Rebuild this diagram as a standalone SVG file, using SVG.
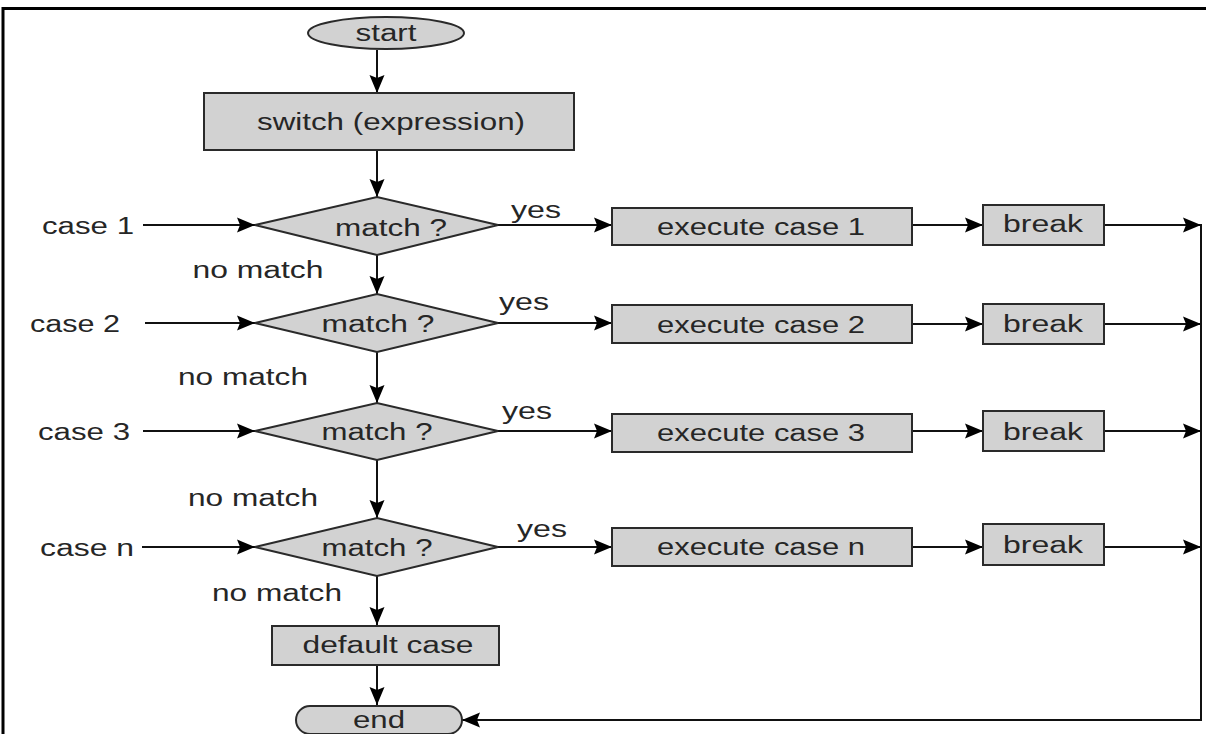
<svg xmlns="http://www.w3.org/2000/svg" width="1206" height="734" viewBox="0 0 1206 734">
<style>
.box{fill:#d2d2d2;stroke:#2a2a2a;stroke-width:2}
.t{font-family:"Liberation Sans",Arial,sans-serif;font-size:23px;fill:#262626;text-anchor:middle}
.c{fill:none;stroke:#111;stroke-width:2}
.frame{stroke:#000;stroke-width:3;fill:none}
</style>
<defs>
<marker id="ah" markerUnits="userSpaceOnUse" markerWidth="20" markerHeight="18" refX="18" refY="9" orient="auto">
<path d="M0,1.5 L18,9 L0,16.5 L3,9 z" fill="#000"/>
</marker>
</defs>
<rect width="1206" height="734" fill="#fff"/>
<path class="frame" d="M3,734 V8.5 H1206"/>

<g id="connectors">
<line class="c" x1="377" y1="50" x2="377" y2="93" marker-end="url(#ah)"/>
<line class="c" x1="377" y1="150" x2="377" y2="197" marker-end="url(#ah)"/>
<line class="c" x1="377" y1="255" x2="377" y2="294" marker-end="url(#ah)"/>
<line class="c" x1="377" y1="352" x2="377" y2="403" marker-end="url(#ah)"/>
<line class="c" x1="377" y1="460" x2="377" y2="518" marker-end="url(#ah)"/>
<line class="c" x1="377" y1="576" x2="377" y2="625" marker-end="url(#ah)"/>
<line class="c" x1="377" y1="665" x2="377" y2="705" marker-end="url(#ah)"/>

<line class="c" x1="143" y1="225" x2="255" y2="225" marker-end="url(#ah)"/>
<line class="c" x1="145" y1="323" x2="255" y2="323" marker-end="url(#ah)"/>
<line class="c" x1="143" y1="431" x2="255" y2="431" marker-end="url(#ah)"/>
<line class="c" x1="142" y1="547" x2="255" y2="547" marker-end="url(#ah)"/>

<line class="c" x1="498" y1="225" x2="612" y2="225" marker-end="url(#ah)"/>
<line class="c" x1="498" y1="323" x2="612" y2="323" marker-end="url(#ah)"/>
<line class="c" x1="498" y1="431" x2="612" y2="431" marker-end="url(#ah)"/>
<line class="c" x1="498" y1="547" x2="612" y2="547" marker-end="url(#ah)"/>

<line class="c" x1="912" y1="225" x2="983" y2="225" marker-end="url(#ah)"/>
<line class="c" x1="912" y1="324" x2="983" y2="324" marker-end="url(#ah)"/>
<line class="c" x1="912" y1="431" x2="983" y2="431" marker-end="url(#ah)"/>
<line class="c" x1="912" y1="547" x2="983" y2="547" marker-end="url(#ah)"/>

<line class="c" x1="1104" y1="225" x2="1201" y2="225" marker-end="url(#ah)"/>
<line class="c" x1="1104" y1="324" x2="1201" y2="324" marker-end="url(#ah)"/>
<line class="c" x1="1104" y1="431" x2="1201" y2="431" marker-end="url(#ah)"/>
<line class="c" x1="1104" y1="547" x2="1201" y2="547" marker-end="url(#ah)"/>

<path class="c" d="M1201,224 V720 H462" marker-end="url(#ah)"/>
</g>

<g id="start"><ellipse class="box" cx="386" cy="33" rx="78" ry="16"/><text class="t" x="386" y="41" textLength="61" lengthAdjust="spacingAndGlyphs">start</text></g>
<g id="switch"><rect class="box" x="204" y="93" width="370" height="57"/><text class="t" x="391" y="130" textLength="268" lengthAdjust="spacingAndGlyphs">switch (expression)</text></g>

<g id="case1-label"><text class="t" x="88" y="234" textLength="92" lengthAdjust="spacingAndGlyphs">case 1</text></g>
<g id="case2-label"><text class="t" x="75" y="332" textLength="90" lengthAdjust="spacingAndGlyphs">case 2</text></g>
<g id="case3-label"><text class="t" x="84" y="440" textLength="92" lengthAdjust="spacingAndGlyphs">case 3</text></g>
<g id="casen-label"><text class="t" x="87" y="556" textLength="94" lengthAdjust="spacingAndGlyphs">case n</text></g>

<g id="match1"><polygon class="box" points="255,225 377,197 498,225 377,255"/><text class="t" x="391" y="236" textLength="112" lengthAdjust="spacingAndGlyphs">match ?</text></g>
<g id="match2"><polygon class="box" points="255,323 377,294 498,323 377,352"/><text class="t" x="378" y="332" textLength="113" lengthAdjust="spacingAndGlyphs">match ?</text></g>
<g id="match3"><polygon class="box" points="255,431 377,403 498,431 377,460"/><text class="t" x="377" y="440" textLength="111" lengthAdjust="spacingAndGlyphs">match ?</text></g>
<g id="matchn"><polygon class="box" points="255,547 377,518 498,547 377,576"/><text class="t" x="377" y="556" textLength="111" lengthAdjust="spacingAndGlyphs">match ?</text></g>

<g id="yes-labels">
<text class="t" x="536" y="218" textLength="50" lengthAdjust="spacingAndGlyphs">yes</text>
<text class="t" x="524" y="310" textLength="50" lengthAdjust="spacingAndGlyphs">yes</text>
<text class="t" x="527" y="419" textLength="50" lengthAdjust="spacingAndGlyphs">yes</text>
<text class="t" x="542" y="537" textLength="50" lengthAdjust="spacingAndGlyphs">yes</text>
</g>
<g id="nomatch-labels">
<text class="t" x="258" y="278" textLength="131" lengthAdjust="spacingAndGlyphs">no match</text>
<text class="t" x="243" y="385" textLength="130" lengthAdjust="spacingAndGlyphs">no match</text>
<text class="t" x="253" y="506" textLength="130" lengthAdjust="spacingAndGlyphs">no match</text>
<text class="t" x="277" y="601" textLength="130" lengthAdjust="spacingAndGlyphs">no match</text>
</g>

<g id="exec1"><rect class="box" x="612" y="208" width="300" height="37"/><text class="t" x="761" y="235" textLength="208" lengthAdjust="spacingAndGlyphs">execute case 1</text></g>
<g id="exec2"><rect class="box" x="612" y="305" width="300" height="38"/><text class="t" x="761" y="333" textLength="208" lengthAdjust="spacingAndGlyphs">execute case 2</text></g>
<g id="exec3"><rect class="box" x="612" y="414" width="300" height="38"/><text class="t" x="761" y="441" textLength="208" lengthAdjust="spacingAndGlyphs">execute case 3</text></g>
<g id="execn"><rect class="box" x="612" y="528" width="300" height="38"/><text class="t" x="761" y="555" textLength="208" lengthAdjust="spacingAndGlyphs">execute case n</text></g>

<g id="break1"><rect class="box" x="983" y="205" width="121" height="40"/><text class="t" x="1043" y="232" textLength="80" lengthAdjust="spacingAndGlyphs">break</text></g>
<g id="break2"><rect class="box" x="983" y="304" width="121" height="40"/><text class="t" x="1043" y="332" textLength="80" lengthAdjust="spacingAndGlyphs">break</text></g>
<g id="break3"><rect class="box" x="983" y="411" width="121" height="40"/><text class="t" x="1043" y="440" textLength="80" lengthAdjust="spacingAndGlyphs">break</text></g>
<g id="breakn"><rect class="box" x="983" y="524" width="121" height="41"/><text class="t" x="1043" y="553" textLength="80" lengthAdjust="spacingAndGlyphs">break</text></g>

<g id="default"><rect class="box" x="272" y="626" width="227" height="39"/><text class="t" x="388" y="653" textLength="171" lengthAdjust="spacingAndGlyphs">default case</text></g>
<g id="end"><rect class="box" x="296" y="706" width="166" height="28" rx="14"/><text class="t" x="379" y="728" textLength="52" lengthAdjust="spacingAndGlyphs">end</text></g>
</svg>
